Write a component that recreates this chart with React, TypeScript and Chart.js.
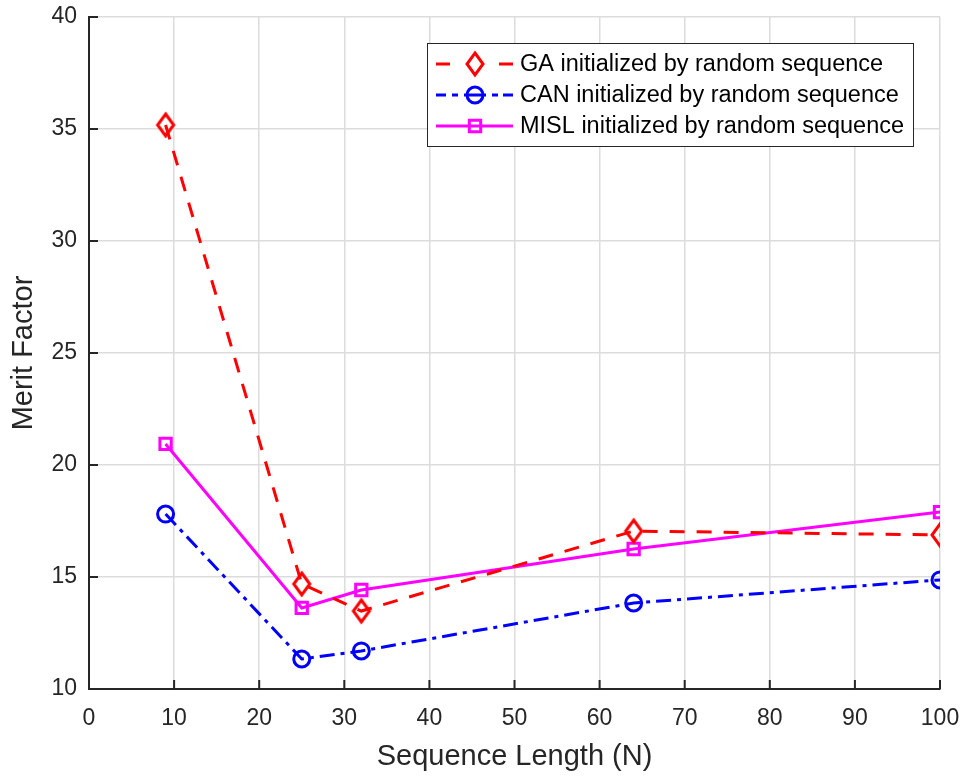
import React, { useEffect, useRef } from "react";
import { Chart, registerables } from "chart.js";

Chart.register(...registerables);

const xValues = [9, 25, 32, 64, 100];
const gaValues = [35.18, 14.69, 13.48, 17.05, 16.88];
const canValues = [17.81, 11.34, 11.7, 13.84, 14.87];
const mislValues = [20.94, 13.62, 14.42, 16.25, 17.9];

const seriesNames = [
  "GA initialized by random sequence",
  "CAN initialized by random sequence",
  "MISL initialized by random sequence",
];
const xTitle = "Sequence Length (N)";
const yTitle = "Merit Factor";

const FONT = "'Liberation Sans', Arial, sans-serif";
const TEXT = "#262626";

const toPts = (ys: number[]) => ys.map((y, i) => ({ x: xValues[i], y }));

function makeDiamond(color: string): HTMLCanvasElement {
  const c = document.createElement("canvas");
  c.width = 22;
  c.height = 28;
  const g = c.getContext("2d")!;
  g.strokeStyle = color;
  g.lineWidth = 3;
  g.beginPath();
  g.moveTo(11, 3);
  g.lineTo(19, 14);
  g.lineTo(11, 25);
  g.lineTo(3, 14);
  g.closePath();
  g.stroke();
  return c;
}

function drawMarker(ctx: CanvasRenderingContext2D, d: any, x: number, y: number) {
  const style = d.pointStyle;
  if (style instanceof HTMLCanvasElement) {
    ctx.drawImage(style, x - style.width / 2, y - style.height / 2);
    return;
  }
  ctx.strokeStyle = d.borderColor;
  ctx.lineWidth = 3;
  ctx.beginPath();
  if (style === "circle") {
    ctx.arc(x, y, 8, 0, Math.PI * 2);
  } else {
    ctx.rect(x - 5.7, y - 5.7, 11.4, 11.4);
  }
  ctx.stroke();
}

const legendSegments: number[][][] = [
  [[436, 450], [499, 513]],
  [[436, 446], [452, 458], [464, 486], [492, 498], [503, 513]],
  [[436, 513]],
];

const overlayPlugin = {
  id: "overlay",
  afterDraw(chart: any) {
    const ctx = chart.ctx as CanvasRenderingContext2D;
    const { left, right, bottom } = chart.chartArea;
    const xs = chart.scales.x;
    const ys = chart.scales.y;
    ctx.save();
    ctx.strokeStyle = TEXT;
    ctx.lineWidth = 2;
    ctx.beginPath();
    xs.ticks.forEach((t: any) => {
      const px = xs.getPixelForValue(t.value);
      ctx.moveTo(px, bottom);
      ctx.lineTo(px, bottom - 9);
    });
    ys.ticks.forEach((t: any) => {
      const py = ys.getPixelForValue(t.value);
      ctx.moveTo(left, py);
      ctx.lineTo(left + 9, py);
    });
    ctx.stroke();

    ctx.fillStyle = TEXT;
    ctx.font = `29px ${FONT}`;
    ctx.textAlign = "center";
    ctx.textBaseline = "middle";
    ctx.fillText(xTitle, (left + right) / 2, 757);
    ctx.save();
    ctx.translate(24, 353);
    ctx.rotate(-Math.PI / 2);
    ctx.fillText(yTitle, 0, 0);
    ctx.restore();

    const bx = 427, by = 43, bw = 486, bh = 103;
    ctx.fillStyle = "#ffffff";
    ctx.fillRect(bx, by, bw, bh);
    ctx.strokeStyle = TEXT;
    ctx.lineWidth = 1;
    ctx.strokeRect(bx + 0.5, by + 0.5, bw, bh);
    const ds = chart.data.datasets;
    const rowsY = [64, 95, 126];
    ds.forEach((d: any, i: number) => {
      const y = rowsY[i];
      ctx.strokeStyle = d.borderColor;
      ctx.lineWidth = 3;
      ctx.beginPath();
      legendSegments[i].forEach(([a, b]) => {
        ctx.moveTo(a, y);
        ctx.lineTo(b, y);
      });
      ctx.stroke();
      drawMarker(ctx, d, 475, y);
      ctx.fillStyle = "#000000";
      ctx.font = `23.5px ${FONT}`;
      ctx.textAlign = "left";
      ctx.textBaseline = "middle";
      ctx.fillText(d.label, 520, y + 1);
    });
    ctx.restore();
  },
};

export default function App() {
  const ref = useRef<HTMLCanvasElement | null>(null);
  useEffect(() => {
    if (!ref.current) return;
    const diamond = makeDiamond("#ff0000");
    const chart = new Chart(ref.current, {
      type: "line",
      data: {
        datasets: [
          {
            label: seriesNames[0],
            data: toPts(gaValues),
            borderColor: "#ff0000",
            borderWidth: 3,
            borderDash: [15, 12],
            pointStyle: diamond,
            pointRadius: 10,
            pointBorderWidth: 3,
            pointBackgroundColor: "transparent",
            pointBorderColor: "#ff0000",
          },
          {
            label: seriesNames[1],
            data: toPts(canValues),
            borderColor: "#0000ff",
            borderWidth: 3,
            borderDash: [15, 6, 4, 6],
            pointStyle: "circle",
            pointRadius: 8,
            pointBorderWidth: 3,
            pointBackgroundColor: "transparent",
            pointBorderColor: "#0000ff",
          },
          {
            label: seriesNames[2],
            data: toPts(mislValues),
            borderColor: "#ff00ff",
            borderWidth: 3,
            pointStyle: "rect",
            pointRadius: 8,
            pointBorderWidth: 3,
            pointBackgroundColor: "transparent",
            pointBorderColor: "#ff00ff",
          },
        ],
      },
      options: {
        animation: false,
        responsive: false,
        devicePixelRatio: 1,
        layout: { padding: { top: 17, right: 26, left: 0, bottom: 0 } },
        plugins: { legend: { display: false }, tooltip: { enabled: false } },
        scales: {
          x: {
            type: "linear",
            min: 0,
            max: 100,
            ticks: {
              stepSize: 10,
              color: TEXT,
              font: { family: FONT, size: 23 },
              padding: 16,
              maxRotation: 0,
            },
            grid: { color: "#dcdcdc", lineWidth: 1.5, drawTicks: false },
            border: { color: TEXT, width: 2 },
            afterFit(scale: any) {
              scale.height = 89;
              scale.paddingLeft = 0;
              scale.paddingRight = 0;
            },
          },
          y: {
            min: 10,
            max: 40,
            ticks: {
              stepSize: 5,
              color: TEXT,
              font: { family: FONT, size: 23 },
              padding: 12,
            },
            grid: { color: "#dcdcdc", lineWidth: 1.5, drawTicks: false },
            border: { color: TEXT, width: 2 },
            afterFit(scale: any) {
              scale.width = 89;
              scale.paddingTop = 0;
              scale.paddingBottom = 0;
            },
          },
        },
      },
      plugins: [overlayPlugin],
    });
    return () => chart.destroy();
  }, []);
  return (
    <div style={{ position: "fixed", left: 0, top: 0, width: 966, height: 778, background: "#fff" }}>
      <canvas ref={ref} width={966} height={778} />
    </div>
  );
}
